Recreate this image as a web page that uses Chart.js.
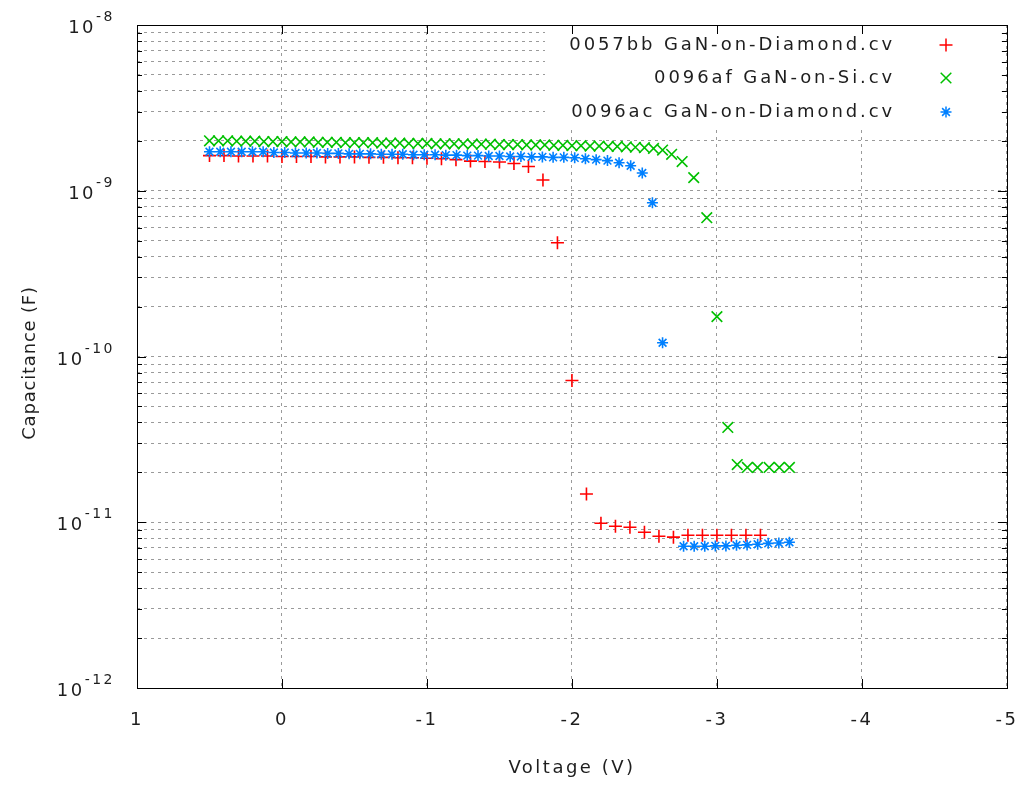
<!DOCTYPE html>
<html><head><meta charset="utf-8">
<script src="https://cdn.jsdelivr.net/npm/chart.js@4/dist/chart.umd.min.js"></script>
<style>html,body{margin:0;padding:0;background:#fff;}#wrap{width:1016px;height:785px;}</style>
</head><body><div id="wrap"><canvas id="c" width="1016" height="785"></canvas></div>
<script>
// ---- data ----
const redV = [0.5,0.4,0.3,0.2,0.1,0,-0.1,-0.2,-0.3,-0.4,-0.5,-0.6,-0.7,-0.8,-0.9,-1.0,-1.1,-1.2,-1.3,-1.4,-1.5,-1.6,-1.7,-1.8,-1.9,-2.0,-2.1,-2.2,-2.3,-2.4,-2.5,-2.6,-2.7,-2.8,-2.9,-3.0,-3.1,-3.2,-3.3];
const redC = [1.63e-9,1.63e-9,1.62e-9,1.62e-9,1.62e-9,1.61e-9,1.61e-9,1.61e-9,1.60e-9,1.60e-9,1.60e-9,1.59e-9,1.59e-9,1.58e-9,1.58e-9,1.57e-9,1.56e-9,1.54e-9,1.51e-9,1.50e-9,1.49e-9,1.46e-9,1.40e-9,1.16e-9,4.86e-10,7.16e-11,1.48e-11,9.87e-12,9.46e-12,9.33e-12,8.71e-12,8.24e-12,8.13e-12,8.35e-12,8.35e-12,8.35e-12,8.35e-12,8.35e-12,8.35e-12];

const greenV = [0.5,0.4375,0.375,0.3125,0.25,0.1875,0.125,0.0625,0,-0.0625,-0.125,-0.1875,-0.25,-0.3125,-0.375,-0.4375,-0.5,-0.5625,-0.625,-0.6875,-0.75,-0.8125,-0.875,-0.9375,-1.0,-1.0625,-1.125,-1.1875,-1.25,-1.3125,-1.375,-1.4375,-1.5,-1.5625,-1.625,-1.6875,-1.75,-1.8125,-1.875,-1.9375,-2.0,-2.0625,-2.125,-2.1875,-2.25,-2.3125,-2.375,-2.4375,-2.5,-2.5625,-2.625,-2.6875,-2.76,-2.84,-2.93,-3.0,-3.075,-3.14,-3.21,-3.28,-3.36,-3.43,-3.5];
const greenC = [2.00e-9,2.00e-9,2.00e-9,1.99e-9,1.99e-9,1.99e-9,1.98e-9,1.98e-9,1.98e-9,
1.97e-9,1.97e-9,1.97e-9,1.96e-9,1.96e-9,1.96e-9,1.95e-9,1.95e-9,
1.95e-9,1.95e-9,1.94e-9,1.94e-9,1.94e-9,1.93e-9,1.93e-9,1.93e-9,
1.92e-9,1.92e-9,1.92e-9,1.92e-9,1.91e-9,1.91e-9,1.91e-9,1.90e-9,
1.90e-9,1.90e-9,1.89e-9,1.89e-9,1.89e-9,1.88e-9,1.88e-9,1.87e-9,
1.87e-9,1.86e-9,1.86e-9,1.85e-9,1.85e-9,1.84e-9,1.83e-9,1.82e-9,
1.80e-9,1.76e-9,1.66e-9,1.50e-9,
1.20e-9,6.88e-10,1.74e-10,3.73e-11,2.23e-11,2.14e-11,2.14e-11,2.14e-11,2.14e-11,2.14e-11];

const blueV = [0.5,0.426,0.352,0.278,0.204,0.130,0.056,-0.019,-0.093,-0.167,-0.241,-0.315,-0.389,-0.463,-0.537,-0.611,-0.685,-0.759,-0.833,-0.907,-0.981,-1.056,-1.130,-1.204,-1.278,-1.352,-1.426,-1.500,-1.574,-1.648,-1.722,-1.796,-1.870,-1.944,-2.019,-2.093,-2.167,-2.245,-2.325,-2.405,-2.485,-2.555,-2.625,-2.77,-2.843,-2.916,-2.989,-3.062,-3.135,-3.208,-3.281,-3.354,-3.427,-3.500];
const blueC = [1.72e-9,1.72e-9,1.72e-9,1.72e-9,1.72e-9,1.72e-9,
1.70e-9,1.70e-9,1.69e-9,1.69e-9,1.69e-9,1.68e-9,1.68e-9,
1.67e-9,1.67e-9,1.67e-9,1.66e-9,1.66e-9,1.66e-9,1.65e-9,1.65e-9,
1.65e-9,1.64e-9,1.64e-9,1.63e-9,1.63e-9,1.62e-9,1.62e-9,
1.61e-9,1.61e-9,1.60e-9,1.60e-9,1.59e-9,1.59e-9,
1.58e-9,1.56e-9,1.54e-9,1.52e-9,1.475e-9,1.415e-9,1.28e-9,8.47e-10,1.21e-10,
7.16e-12,7.16e-12,7.16e-12,7.20e-12,7.20e-12,7.26e-12,7.30e-12,7.36e-12,7.46e-12,7.50e-12,7.57e-12];

const seriesNames = ['0057bb GaN-on-Diamond.cv','0096af GaN-on-Si.cv','0096ac GaN-on-Diamond.cv'];
const seriesColors = ['#ff0000','#00c000','#0080ff'];
const seriesMarkers = ['cross','crossRot','star'];
const seriesRadius = [6.5,7.5,5.5];

const xTickValues = [1,0,-1,-2,-3,-4,-5];
const xTickLabels = ['1','0','-1','-2','-3','-4','-5'];
const yDecades = [-12,-11,-10,-9,-8];
const yTickExpLabels = ['-12','-11','-10','-9','-8'];
const yMantissas = [1,2,3,4,5,6,7,8,9];
const xTitle = 'Voltage (V)';
const yTitle = 'Capacitance (F)';

// build log grid tick values (axis construction)
const yGrid = [];
for (let d = 0; d < yDecades.length; d++) {
  if (d === yDecades.length - 1) { yGrid.push(Math.pow(10, yDecades[d])); break; }
  for (const m of yMantissas) yGrid.push(parseFloat((m * Math.pow(10, yDecades[d])).toPrecision(4)));
}

const FONT = "'DejaVu Sans', sans-serif";
const TXT = '#1e1e1e';
const SPACING = '2.5px';

function pts(xs, ys){ return xs.map((x,i)=>({x:x, y:ys[i]})); }

const deco = {
  id: 'deco',
  beforeDraw(chart){ chart.ctx.letterSpacing = SPACING; },
  beforeDatasetsDraw(chart){
    const ctx = chart.ctx, a = chart.chartArea;
    ctx.save();
    ctx.fillStyle = '#ffffff';
    ctx.fillRect(545, a.top + 1, a.right - 545 - 1, 127 - a.top);
    ctx.restore();
  },
  afterDatasetsDraw(chart){
    const ctx = chart.ctx, a = chart.chartArea;
    const xs = chart.scales.x, ys = chart.scales.y;
    ctx.save();
    ctx.letterSpacing = '0px';
    ctx.strokeStyle = '#000';
    ctx.lineWidth = 1;
    ctx.setLineDash([]);
    // border
    ctx.strokeRect(Math.round(a.left)+0.5, Math.round(a.top)+0.5, Math.round(a.right-a.left), Math.round(a.bottom-a.top));
    // y tick marks
    ctx.beginPath();
    for (const v of yGrid) {
      const p = Math.round(ys.getPixelForValue(v)) + 0.5;
      const major = yDecades.some(e => Math.abs(Math.log10(v) - e) < 1e-6);
      const len = major ? 9 : 5;
      ctx.moveTo(a.left, p); ctx.lineTo(a.left + len, p);
      ctx.moveTo(a.right, p); ctx.lineTo(a.right - len, p);
    }
    // x tick marks
    for (const v of xTickValues) {
      const p = Math.round(xs.getPixelForValue(v)) + 0.5;
      ctx.moveTo(p, a.bottom); ctx.lineTo(p, a.bottom - 9);
      ctx.moveTo(p, a.top); ctx.lineTo(p, a.top + 9);
    }
    ctx.stroke();
    // y tick labels 10^n
    ctx.fillStyle = TXT;
    ctx.letterSpacing = SPACING;
    ctx.textAlign = 'left';
    ctx.textBaseline = 'alphabetic';
    const xRight = 115;
    yDecades.forEach((e, i) => {
      const p = ys.getPixelForValue(Math.pow(10, e));
      ctx.font = '14px ' + FONT;
      const sup = yTickExpLabels[i];
      const sw = ctx.measureText(sup).width;
      ctx.fillText(sup, xRight - sw, p - 4);
      ctx.font = '18px ' + FONT;
      const bw = ctx.measureText('10').width;
      ctx.fillText('10', xRight - sw - bw, p + 8);
    });
    // y axis title (rotated)
    ctx.save();
    ctx.letterSpacing = '0.8px';
    ctx.font = '18px ' + FONT;
    ctx.textAlign = 'center';
    ctx.textBaseline = 'middle';
    ctx.translate(30, 363);
    ctx.rotate(-Math.PI / 2);
    ctx.fillText(yTitle, 0, 0);
    ctx.restore();
    // legend
    const rowsY = [45, 78, 112];
    ctx.font = '18px ' + FONT;
    ctx.textAlign = 'right';
    ctx.textBaseline = 'middle';
    ctx.letterSpacing = '2.9px';
    seriesNames.forEach((name, i) => {
      ctx.fillStyle = TXT;
      ctx.fillText(name, 895, rowsY[i]);
      ctx.strokeStyle = seriesColors[i];
      ctx.fillStyle = seriesColors[i];
      ctx.lineWidth = 1.5;
      Chart.helpers.drawPoint(ctx, {pointStyle: seriesMarkers[i], radius: seriesRadius[i], rotation: 0, borderWidth: 1.5}, 946, rowsY[i]);
    });
    ctx.restore();
  }
};

const mk = (label, xs, ys, i, order) => ({
  label, data: pts(xs, ys), order,
  pointStyle: seriesMarkers[i], pointRadius: seriesRadius[i], pointHoverRadius: seriesRadius[i],
  borderColor: seriesColors[i], backgroundColor: seriesColors[i], pointBorderWidth: 1.6, showLine: false
});

new Chart(document.getElementById('c'), {
  type: 'scatter',
  data: { datasets: [
    mk(seriesNames[0], redV, redC, 0, 3),
    mk(seriesNames[1], greenV, greenC, 1, 2),
    mk(seriesNames[2], blueV, blueC, 2, 1)
  ]},
  options: {
    responsive: false, animation: false, devicePixelRatio: 1,
    layout: { padding: { top: 25, right: 9, left: 0, bottom: 0 } },
    plugins: { legend: { display: false }, tooltip: { enabled: false } },
    events: [],
    scales: {
      x: {
        type: 'linear', min: -5, max: 1, reverse: true, position: 'bottom',
        afterBuildTicks: s => { s.ticks = xTickValues.map(v => ({value: v})); },
        ticks: { padding: 22, maxRotation: 0, autoSkip: false, color: TXT, font: { family: FONT, size: 18 },
          callback: v => { const i = xTickValues.indexOf(v); return i >= 0 ? xTickLabels[i] : ''; } },
        grid: { color: '#9a9a9a', lineWidth: 1, drawTicks: false },
        border: { display: false, dash: [3, 4] },
        title: { display: true, text: xTitle, color: TXT, font: { family: FONT, size: 18 }, padding: { top: 0, bottom: 6 } },
        afterFit: s => { s.height = 97; s.paddingLeft = 0; s.paddingRight = 0; }
      },
      y: {
        type: 'logarithmic', min: 1e-12, max: 1e-8, position: 'left',
        afterBuildTicks: s => { s.ticks = yGrid.map(v => ({value: v})); },
        ticks: { display: false },
        grid: { color: '#9a9a9a', lineWidth: 1, drawTicks: false },
        border: { display: false, dash: [3, 4] },
        title: { display: false },
        afterFit: s => { s.width = 137; s.paddingTop = 0; s.paddingBottom = 0; }
      }
    }
  },
  plugins: [deco]
});
</script>
</body></html>
